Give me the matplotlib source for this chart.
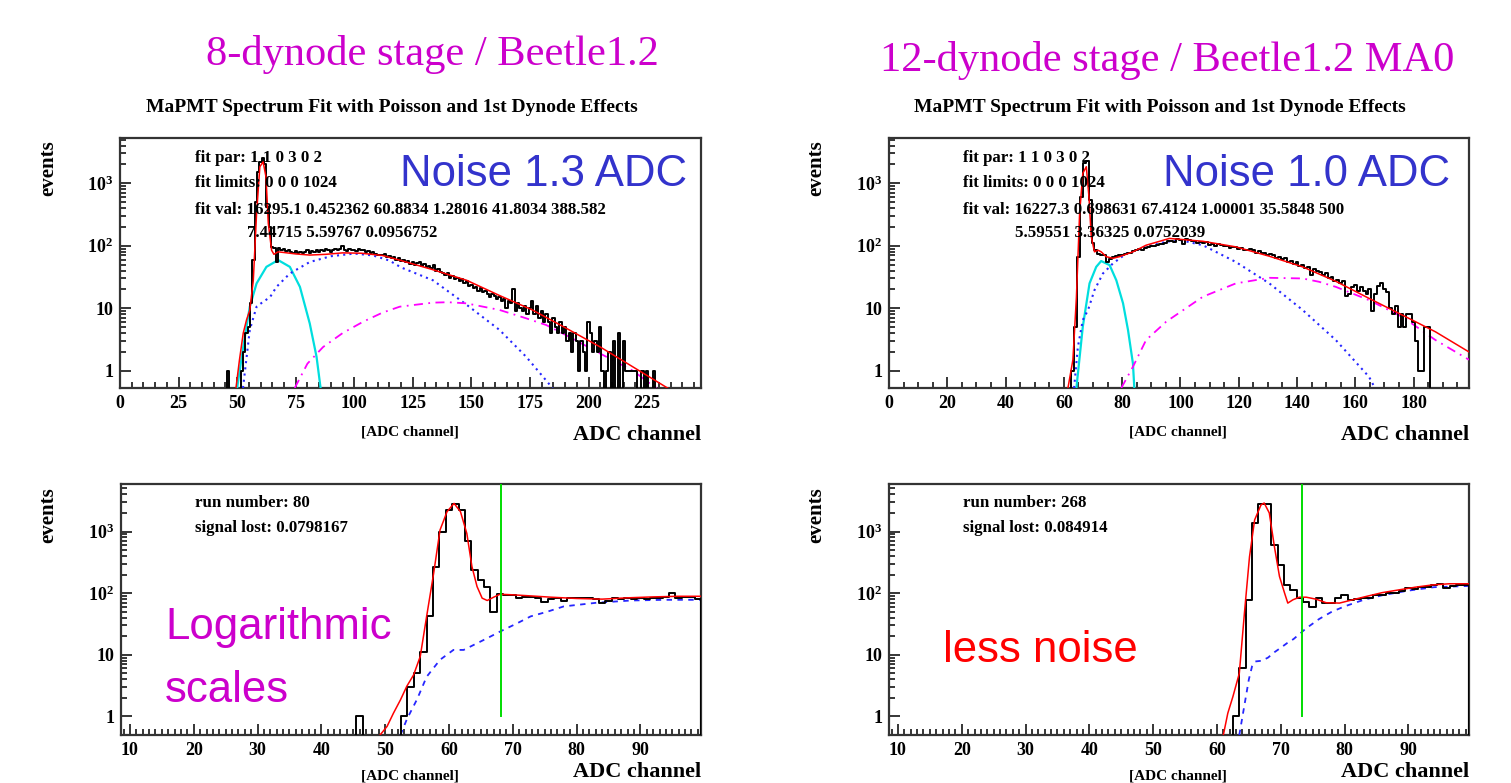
import numpy as np
import matplotlib
matplotlib.use("Agg")
import matplotlib.pyplot as plt
from matplotlib import font_manager as fm
from matplotlib.ticker import FixedLocator, FixedFormatter, MultipleLocator, NullFormatter

# ---------------- data ----------------
# histograms: first bin centre + counts per 1-ADC bin
tl_first = 46
tl_counts = [1, 0, 0, 0, 0, 0, 1, 2, 4, 5, 12, 60, 500, 1500, 2200, 2500, 2000, 420, 200, 95, 92, 55,
             92, 85, 88, 82, 86, 80, 76, 82, 78, 80, 76, 80, 84, 78, 82, 80, 86, 80, 84, 82, 88, 84,
             80, 86, 88, 84, 90, 100, 86, 82, 88, 84, 86, 82, 88, 84, 86, 80, 82, 76, 80, 74, 72,
             72, 70, 74, 66, 68, 64, 66, 60, 63, 58, 60, 56, 58, 52, 55, 50, 53, 56, 48, 52, 46, 48,
             44, 50, 40, 42, 38, 36, 34, 37, 31, 33, 29, 31, 27, 29, 25, 27, 23, 24, 21, 22, 19, 21,
             18, 19, 17, 15, 17, 16, 14, 15, 13, 14, 10, 13, 12, 20, 9, 12, 10, 9, 11, 8, 10, 13, 8,
             11, 7, 9, 6, 8, 6, 4, 7, 5, 4, 6, 4, 5, 3, 4, 2, 4, 3, 1, 3, 2, 1, 6, 4, 2, 3, 2, 5, 1,
             0, 1, 2, 0, 3, 0, 4, 0, 3, 1, 1, 1, 1, 1, 0, 0, 1, 0, 1, 0, 0, 1, 0]

tr_first = 63
tr_counts = [1, 5, 65, 600, 2100, 2300, 540, 110, 85, 75, 72, 70, 55, 62, 66, 68, 70, 72, 74, 78,
             76, 82, 84, 88, 86, 92, 96, 100, 98, 104, 108, 106, 112, 118, 120, 114, 126, 122, 105,
             128, 124, 118, 120, 112, 116, 110, 114, 104, 108, 100, 106, 102, 98, 100, 92, 96, 94,
             90, 92, 84, 86, 88, 84, 78, 82, 76, 78, 70, 74, 72, 64, 66, 62, 64, 56, 58, 52, 54, 48,
             50, 44, 46, 34, 42, 40, 38, 34, 36, 30, 32, 27, 28, 25, 27, 16, 17, 22, 24, 19, 22, 19,
             17, 20, 9, 17, 23, 25, 20, 18, 10, 8, 11, 5, 8, 5, 8, 8, 6, 3, 1, 1, 5, 5]

bl_first = 46
bl_counts = [1, 0, 0, 0, 0, 0, 0, 1, 3, 5, 11, 42, 270, 980, 2240, 2800, 2240, 690, 234, 165, 128,
             49, 98, 95, 92, 82, 88, 88, 85, 72, 80, 82, 75, 85, 85, 82, 85, 80, 70, 75, 85, 80, 85,
             80, 82, 80, 85, 85, 88, 100, 85, 88, 88, 80]

br_first = 63
br_counts = [1, 6, 78, 1380, 2800, 2800, 610, 288, 136, 113, 83, 73, 59, 83, 70, 70, 83, 94, 78, 80,
             82, 85, 95, 95, 100, 102, 108, 120, 115, 125, 128, 135, 140, 120, 130, 135, 138]

# fit curves (ADC channel, events)
tl_red_x = [49.5, 51, 52.6, 54, 55.4, 56.9, 58.3, 59.7, 61.1, 62.3, 63.3, 64.7, 65.7, 67.5, 70, 75,
            81, 88, 95, 103, 112, 120, 133, 148, 162, 176, 190, 205, 219, 233, 236]
tl_red_y = [0.53, 1.5, 4, 6.5, 9.3, 28, 330, 1840, 2200, 1270, 230, 85, 73, 80, 78, 74, 71, 73, 77,
            76, 70, 58, 42, 28, 16, 9.4, 4.9, 2.4, 1.15, 0.55, 0.47]
tl_cyan_x = [50, 52.6, 55.4, 58.3, 62.5, 67.5, 72.5, 76.8, 81, 83.9, 85.7]
tl_cyan_y = [0.53, 2.4, 10.6, 25, 46, 59, 46, 22, 5.7, 1.67, 0.5]
tl_blue_x = [52.5, 55.4, 58.3, 61.1, 64, 66.8, 72.5, 81, 90, 100, 108, 115, 120, 133.6, 147.8, 162,
             173.4, 183.4, 185]
tl_blue_y = [0.53, 4.5, 10.6, 12.7, 15, 22, 36, 55, 68, 75, 70, 58, 45, 28, 11.5, 4.5, 1.67, 0.6,
             0.5]
tl_mag_x = [74.6, 80, 86.7, 95, 103.8, 112, 119.4, 133.6, 140, 147.8, 162, 173.4, 181.9, 190.5,
            204.8, 219, 229]
tl_mag_y = [0.53, 1.3, 2.4, 4.0, 6.1, 8.5, 10.6, 12.3, 12.5, 12, 9.4, 6.9, 5.4, 3.7, 1.9, 1.0, 0.52]

tr_red_x = [61.4, 63.1, 64.3, 65.4, 66.5, 67.7, 68.6, 69.4, 70.5, 71.7, 72.8, 74.5, 76.8, 79.1,
            83.7, 88.2, 96.2, 107.7, 119, 130.5, 141.9, 153.3, 164.7, 176.1, 187.5, 199]
tr_red_y = [0.53, 1.5, 15, 330, 1440, 1840, 610, 140, 80, 85, 80, 67, 63, 67, 80, 102, 131, 118,
            96, 68, 46, 27, 14.4, 7.8, 4.2, 2.0]
tr_cyan_x = [64.3, 66.5, 68.8, 71.1, 72.8, 75.7, 78, 80.3, 82, 83.7, 84.2]
tr_cyan_y = [0.53, 5.1, 25, 46, 57, 49, 28, 12, 4.5, 1.3, 0.5]
tr_blue_x = [63.5, 64.8, 66.5, 68.3, 70.5, 73.4, 76.8, 81.4, 88.2, 95.1, 100, 107.7, 119, 130.5,
             141.9, 153.3, 164.7, 167]
tr_blue_y = [0.53, 2.4, 6.5, 9.4, 19.5, 36, 52, 75, 96, 116, 123, 102, 55, 25, 9.4, 3.1, 0.8, 0.5]
tr_mag_x = [79.7, 83.7, 88.2, 95.1, 107.7, 119, 130.5, 141.9, 147.6, 153.3, 164.7, 176.1, 187.5, 199]
tr_mag_y = [0.53, 1.16, 3.1, 6.1, 15.3, 25, 30.7, 30, 26.5, 22, 13.5, 7.3, 3.1, 1.5]

bl_red_x = [49.2, 50.3, 51.3, 52.4, 53.4, 54.45, 55.5, 56.5, 57.6, 58.6, 59.7, 60.8, 61.8, 62.8,
            63.6, 64.4, 65.2, 66, 67, 68, 70, 73, 76, 80, 84, 88, 92, 96, 99.5]
bl_red_y = [0.5, 0.69, 1.13, 1.86, 3.1, 4.7, 9.4, 42, 210, 1060, 2100, 2860, 2100, 930, 270, 128,
            83, 76, 86, 96, 94, 90, 86, 82, 80, 84, 87, 89, 89]
bl_blue_x = [52.4, 53.4, 55, 56.5, 58.6, 60.7, 62.3, 63.9, 66, 68, 70.7, 72.8, 75.4, 78, 83.2, 88.5,
             93.7, 99.5]
bl_blue_y = [0.5, 0.9, 1.9, 4.4, 8.3, 12, 12, 14.5, 18.6, 23.8, 32.5, 42, 50, 61, 70, 76, 78, 78]

br_red_x = [61, 61.7, 62.5, 63.5, 64.3, 65.1, 65.9, 66.9, 67.4, 68.2, 69, 69.8, 70.6, 71.1, 71.9,
            72.9, 74, 75.5, 77.1, 79.2, 81.25, 83.3, 85.9, 88.5, 91.1, 93.75, 96.4, 99.5]
br_red_y = [0.5, 1.13, 2.1, 5, 47, 390, 1540, 2700, 2900, 2000, 570, 186, 100, 69, 78, 86, 86, 80,
            70, 69, 78, 88, 102, 113, 125, 136, 142, 142]
br_blue_x = [63.5, 64, 64.5, 65, 65.5, 66, 67, 68, 69, 70, 71, 72, 73, 74, 75, 76, 78, 80, 83, 86,
             90, 94, 99.5]
br_blue_y = [0.5, 1, 2, 4, 6.5, 7.8, 8, 9, 11, 13, 15.5, 18, 22, 27, 32, 38, 50, 61, 78, 93, 110,
             125, 131]

bl_cut = 68.1
br_cut = 73.4

titles = ["8-dynode stage / Beetle1.2", "12-dynode stage / Beetle1.2 MA0"]
subtitle = "MaPMT Spectrum Fit with Poisson and 1st Dynode Effects"
fit_lines_l = ["fit par: 1 1 0 3 0 2", "fit limits: 0 0 0 1024",
               "fit val: 16295.1 0.452362 60.8834 1.28016 41.8034 388.582",
               "7.44715 5.59767 0.0956752"]
fit_lines_r = ["fit par: 1 1 0 3 0 2", "fit limits: 0 0 0 1024",
               "fit val: 16227.3 0.698631 67.4124 1.00001 35.5848 500",
               "5.59551 3.36325 0.0752039"]
run_lines_l = ["run number: 80", "signal lost: 0.0798167"]
run_lines_r = ["run number: 268", "signal lost: 0.084914"]

# ---------------- style ----------------
W, H = 1511, 783
names = {f.name for f in fm.fontManager.ttflist}
SERIF = "Liberation Serif"
NARROW = "Liberation Sans Narrow" if "Liberation Sans Narrow" in names else "Liberation Sans"
BIG = 38 if NARROW == "Liberation Sans Narrow" else 31.5

plt.rcParams["font.family"] = SERIF
plt.rcParams["font.weight"] = "bold"
plt.rcParams["mathtext.fontset"] = "custom"
plt.rcParams["mathtext.rm"] = "Liberation Serif:bold"
plt.rcParams["mathtext.it"] = "Liberation Serif:bold"
plt.rcParams["mathtext.bf"] = "Liberation Serif:bold"

RED = "#ff0000"
CYAN = "#00dede"
BLUE = "#2626ff"
MAG = "#ff00ff"
GREEN = "#00dd00"


def px(x, y):
    return x / W, 1 - y / H


def hist(ax, first, counts):
    c = np.asarray(counts, float)
    edges = np.arange(len(c) + 1) + first - 0.5
    x = np.r_[edges[0], edges, edges[-1]]
    y = np.r_[0, c, c[-1], 0]
    ax.plot(x, y, drawstyle="steps-post", color="black", lw=1.4, zorder=5)


def setup(ax, xlim, ylim, major, minor):
    ax.set_yscale("log", nonpositive="clip")
    ax.set_xlim(*xlim)
    ax.set_ylim(*ylim)
    ax.xaxis.set_major_locator(MultipleLocator(major))
    ax.xaxis.set_minor_locator(MultipleLocator(minor))
    ax.yaxis.set_major_locator(FixedLocator([1, 10, 100, 1000]))
    ax.yaxis.set_major_formatter(FixedFormatter(["1", "10", r"$10^{2}$", r"$10^{3}$"]))
    mins = [m * d for d in (1, 10, 100, 1000) for m in range(2, 10)]
    ax.yaxis.set_minor_locator(FixedLocator(mins))
    ax.yaxis.set_minor_formatter(NullFormatter())
    ax.tick_params(which="both", direction="in", top=False, right=False, width=1.1, colors="black")
    ax.tick_params(which="major", length=8, labelsize=13, pad=5)
    ax.tick_params(which="minor", length=4.5)
    for s in ax.spines.values():
        s.set_linewidth(1.6)
        s.set_color("#333333")


fig = plt.figure(figsize=(W / 100, H / 100), dpi=100)

ax_tl = fig.add_axes([120 / W, 1 - 388 / H, 581 / W, 250 / H])
ax_tr = fig.add_axes([889 / W, 1 - 388 / H, 580 / W, 250 / H])
ax_bl = fig.add_axes([121 / W, 1 - 735 / H, 580 / W, 251 / H])
ax_br = fig.add_axes([889 / W, 1 - 735 / H, 580 / W, 251 / H])

setup(ax_tl, (0, 248), (0.53, 5300), 25, 5)
setup(ax_tr, (0, 199), (0.53, 5300), 20, 5)
setup(ax_bl, (8.6, 99.5), (0.5, 5900), 10, 1)
setup(ax_br, (8.6, 99.5), (0.5, 5900), 10, 1)

# top panels
for ax, first, counts, rx, ry, cx, cy, bx, by, mx, my in [
        (ax_tl, tl_first, tl_counts, tl_red_x, tl_red_y, tl_cyan_x, tl_cyan_y, tl_blue_x, tl_blue_y,
         tl_mag_x, tl_mag_y),
        (ax_tr, tr_first, tr_counts, tr_red_x, tr_red_y, tr_cyan_x, tr_cyan_y, tr_blue_x, tr_blue_y,
         tr_mag_x, tr_mag_y)]:
    hist(ax, first, counts)
    ax.plot(cx, cy, color=CYAN, lw=1.6, zorder=3)
    ax.plot(bx, by, color=BLUE, lw=1.5, ls=(0, (1, 2)), zorder=3)
    ax.plot(mx, my, color=MAG, lw=1.3, ls=(0, (5, 3, 1, 3)), zorder=3)
    ax.plot(rx, ry, color=RED, lw=1.1, zorder=6)

# bottom panels
for ax, first, counts, rx, ry, bx, by, cut in [
        (ax_bl, bl_first, bl_counts, bl_red_x, bl_red_y, bl_blue_x, bl_blue_y, bl_cut),
        (ax_br, br_first, br_counts, br_red_x, br_red_y, br_blue_x, br_blue_y, br_cut)]:
    hist(ax, first, counts)
    ax.plot(bx, by, color=BLUE, lw=1.3, ls=(0, (3, 3)), zorder=3)
    ax.plot(rx, ry, color=RED, lw=1.1, zorder=6)
    ax.plot([cut, cut], [1, 5900], color=GREEN, lw=1.4, zorder=7)

# ---------------- text ----------------
fig.text(*px(432, 55), titles[0], ha="center", va="center", fontsize=30.6, fontweight="normal",
         color="#cc00cc")
fig.text(*px(1167, 60), titles[1], ha="center", va="center", fontsize=30.6, fontweight="normal",
         color="#cc00cc")
for cxp in (392, 1160):
    fig.text(*px(cxp, 108), subtitle, ha="center", va="center", fontsize=14)

for xo in (0, 768):
    fig.text(*px(48 + xo, 168), "events", rotation=90, ha="center", va="center", fontsize=15)
    fig.text(*px(48 + xo, 515), "events", rotation=90, ha="center", va="center", fontsize=15)

for xr, xc in ((701, 410), (1469, 1178)):
    fig.text(*px(xr, 435), "ADC channel", ha="right", va="center", fontsize=16)
    fig.text(*px(xc, 432), "[ADC channel]", ha="center", va="center", fontsize=11)
    fig.text(*px(xr, 782), "ADC channel", ha="right", va="bottom", fontsize=16)
    fig.text(*px(xc, 782), "[ADC channel]", ha="center", va="bottom", fontsize=11)

for x0, lines in ((195, fit_lines_l), (963, fit_lines_r)):
    for i, y in enumerate((158, 183, 210)):
        fig.text(*px(x0, y), lines[i], ha="left", va="center", fontsize=12.2, zorder=10)
    fig.text(*px(x0 + 52, 233), lines[3], ha="left", va="center", fontsize=12.2, zorder=10)

for x0, lines in ((195, run_lines_l), (963, run_lines_r)):
    fig.text(*px(x0, 503), lines[0], ha="left", va="center", fontsize=12.2)
    fig.text(*px(x0, 528), lines[1], ha="left", va="center", fontsize=12.2)

big = dict(ha="left", va="center", fontsize=BIG, family=NARROW, fontweight="normal")
fig.text(*px(400, 175), "Noise 1.3 ADC", color="#3333cc", **big)
fig.text(*px(1163, 175), "Noise 1.0 ADC", color="#3333cc", **big)
fig.text(*px(165, 627), "Logarithmic", color="#cc00cc", **big)
fig.text(*px(165, 690), "scales", color="#cc00cc", **big)
fig.text(*px(943, 650), "less noise", color="#ff0000", **big)

fig.savefig("out.png", dpi=100)
